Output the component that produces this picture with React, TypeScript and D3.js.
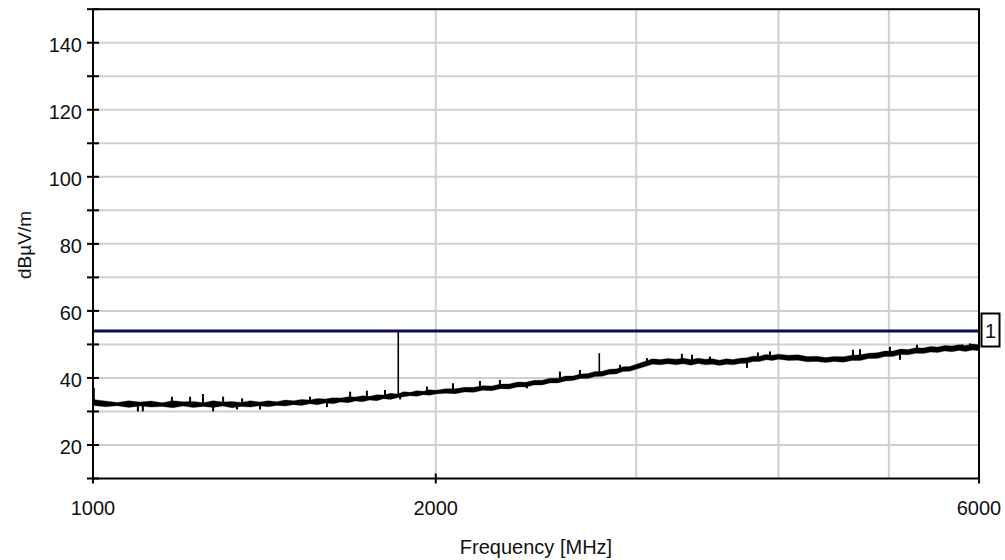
import React from "react";
import * as d3 from "d3";

// ---- data ----
const yTickValues = [10, 20, 30, 40, 50, 60, 70, 80, 90, 100, 110, 120, 130, 140, 150];
const yTickLabels = [20, 40, 60, 80, 100, 120, 140];
const xGridValues = [2000, 3000, 4000, 5000];
const xTickValues = [1000, 2000, 6000];
const xTickLabels = ["1000", "2000", "6000"];

const limitValue = 54;
const limitLabel = "1";

const traceFreq = [
  1000, 1025, 1050, 1075, 1100, 1125, 1150, 1175, 1200, 1225, 1250, 1275, 1300, 1325, 1350, 1375,
  1400, 1425, 1450, 1475, 1500, 1525, 1550, 1575, 1600, 1625, 1650, 1675, 1700, 1725, 1750, 1775,
  1800, 1825, 1850, 1875, 1900, 1925, 1950, 1975, 2000,
  2040, 2080, 2120, 2160, 2200, 2240, 2280, 2320, 2360, 2400, 2440, 2480, 2520, 2560, 2600, 2640,
  2680, 2720, 2760, 2800, 2840, 2880, 2920, 2960, 3000,
  3050, 3100, 3150, 3200, 3250, 3300, 3350, 3400, 3450, 3500, 3550, 3600, 3650, 3700, 3750, 3800,
  3850, 3900, 3950, 4000,
  4080, 4160, 4240, 4320, 4400, 4480, 4560, 4640, 4720, 4800, 4880, 4960, 5040, 5120, 5200, 5280,
  5360, 5440, 5520, 5600, 5680, 5760, 5840, 5920, 6000,
];
const traceLow = [
  31.8, 31.4, 31.7, 31.2, 31.6, 31.3, 31.5, 31.1, 31.6, 31.2, 31.5, 31.2, 31.6, 31.1, 31.5, 31.3,
  31.7, 31.4, 31.8, 31.6, 32.0, 31.8, 32.3, 32.0, 32.5, 32.3, 32.8, 32.6, 33.1, 32.9, 33.4, 33.2,
  33.8, 33.6, 34.1, 34.4, 34.7, 34.5, 35.0, 34.8, 35.2,
  35.4, 35.3, 35.8, 35.7, 36.3, 36.2, 36.8, 36.7, 37.3, 37.3, 37.9, 37.9, 38.5, 38.5, 39.1, 39.2,
  39.8, 39.8, 40.4, 40.5, 41.1, 41.2, 41.9, 42.0, 42.6,
  43.3, 44.1, 43.9, 44.2, 43.9, 44.2, 43.8, 44.3, 43.9, 44.1, 43.7, 44.1, 43.9, 44.3, 44.4, 44.9,
  44.9, 45.4, 45.2, 45.6,
  45.2, 45.3, 44.8, 44.9, 44.6, 44.9, 44.7, 45.2, 45.2, 45.8, 45.8, 46.4, 46.4, 47.0, 46.9, 47.4,
  47.3, 47.7, 47.6, 48.0, 47.8, 48.2, 47.9, 48.3, 48.1,
];
const traceHigh = [
  33.6, 33.1, 32.7, 33.2, 32.8, 33.1, 32.6, 33.2, 32.9, 33.0, 32.6, 33.2, 32.8, 33.0, 32.7, 33.2,
  32.8, 33.2, 32.9, 33.4, 33.2, 33.6, 33.4, 33.9, 33.7, 34.1, 34.0, 34.4, 34.3, 34.7, 34.5, 35.0,
  34.9, 35.4, 35.2, 35.9, 35.7, 36.2, 36.0, 36.5, 36.3,
  36.8, 36.8, 37.2, 37.2, 37.7, 37.6, 38.2, 38.2, 38.8, 38.7, 39.3, 39.3, 39.9, 39.9, 40.6, 40.6,
  41.2, 41.3, 41.9, 42.0, 42.6, 42.7, 43.3, 43.4, 44.1,
  44.9, 45.7, 45.5, 45.8, 45.6, 45.9, 45.5, 45.9, 45.6, 45.7, 45.3, 45.7, 45.5, 45.9, 46.0, 46.5,
  46.5, 47.0, 46.8, 47.1,
  46.8, 46.9, 46.4, 46.5, 46.1, 46.4, 46.3, 46.8, 46.9, 47.4, 47.5, 48.0, 48.0, 48.6, 48.5, 49.0,
  48.9, 49.4, 49.2, 49.7, 49.5, 49.9, 49.7, 50.1, 49.9,
];

// small noise excursions off the trace (frequency, level reached)
const noiseFreq = [
  1095, 1106, 1173, 1217, 1249, 1275, 1301, 1338, 1352, 1402, 1551, 1605, 1682, 1740, 1805,
  1861, 1965, 2071, 2187, 2277, 2405, 2571, 2677, 2903, 3066, 3290, 3358, 3482, 3753, 3837,
  3932, 4650, 4717, 5011, 5114, 5293, 5798, 5892,
];
const noiseLevel = [
  30.0, 30.0, 34.4, 34.4, 35.2, 30.0, 34.4, 30.6, 33.9, 30.6, 34.4, 31.3, 35.9, 36.2, 36.4,
  33.6, 37.4, 38.4, 39.1, 39.4, 36.9, 41.9, 42.4, 43.9, 45.9, 47.2, 46.9, 46.4, 43.0, 47.6,
  47.9, 48.4, 48.6, 49.3, 45.4, 49.9, 50.0, 50.3,
];

// tall single-frequency spikes
const spikeFreq = [1000, 1854, 2784];
const spikeTop = [37.0, 54.0, 47.4];

export default function App() {
  const W = 1005;
  const H = 560;
  const left = 93;
  const right = 979;
  const top = 9.2;
  const bottom = 478.5;

  const x = d3.scaleLog().domain([1000, 6000]).range([left, right]);
  const y = d3.scaleLinear().domain([10, 150]).range([bottom, top]);

  const band = traceFreq.map((f, i) => ({ f, lo: traceLow[i], hi: traceHigh[i] }));
  const area = d3
    .area<{ f: number; lo: number; hi: number }>()
    .x((d) => x(d.f))
    .y0((d) => y(d.lo))
    .y1((d) => y(d.hi));

  const loS = d3.scaleLog().domain(traceFreq).range(traceLow);
  const hiS = d3.scaleLog().domain(traceFreq).range(traceHigh);
  const midAt = (f: number) => (loS(f) + hiS(f)) / 2;

  const font = "'Liberation Sans', Arial, sans-serif";
  const grid = "#cfcfcf";

  return (
    <svg
      width={W}
      height={H}
      style={{ position: "absolute", left: 0, top: 0, display: "block", background: "#fff" }}
    >
      <rect x={0} y={0} width={W} height={H} fill="#fff" />
      {/* horizontal grid */}
      {yTickValues
        .filter((v) => v > 10 && v < 150)
        .map((v) => (
          <line key={"hg" + v} x1={left} x2={right} y1={y(v)} y2={y(v)} stroke={grid} strokeWidth={2} />
        ))}
      {/* vertical grid */}
      {xGridValues.map((v) => (
        <line key={"vg" + v} x1={x(v)} x2={x(v)} y1={top} y2={bottom} stroke={grid} strokeWidth={2} />
      ))}

      {/* limit line */}
      <line x1={left} x2={right} y1={y(limitValue)} y2={y(limitValue)} stroke="#0a0a5a" strokeWidth={3} />

      {/* trace */}
      <path d={area(band) || ""} fill="#000" stroke="#000" strokeWidth={0.3} />
      {noiseFreq.map((f, i) => (
        <line
          key={"n" + i}
          x1={x(f)}
          x2={x(f)}
          y1={y(midAt(f))}
          y2={y(noiseLevel[i])}
          stroke="#000"
          strokeWidth={2}
        />
      ))}
      {spikeFreq.map((f, i) => (
        <line
          key={"s" + i}
          x1={x(f) + (i === 0 ? 1 : 0)}
          x2={x(f) + (i === 0 ? 1 : 0)}
          y1={y(midAt(f))}
          y2={y(spikeTop[i])}
          stroke="#000"
          strokeWidth={1.6}
        />
      ))}

      {/* frame */}
      <rect x={left} y={top} width={right - left} height={bottom - top} fill="none" stroke="#000" strokeWidth={2} />

      {/* y ticks */}
      {yTickValues.map((v) => (
        <line key={"yt" + v} x1={left - 6} x2={left + 6} y1={y(v)} y2={y(v)} stroke="#000" strokeWidth={2} />
      ))}
      {yTickLabels.map((v) => (
        <text key={"yl" + v} x={82} y={y(v) + 9.5} textAnchor="end" fontFamily={font} fontSize={20} fill="#111">
          {v}
        </text>
      ))}

      {/* x ticks */}
      {xTickValues.map((v) => (
        <line key={"xt" + v} x1={x(v)} x2={x(v)} y1={bottom - 5} y2={bottom + 5} stroke="#000" strokeWidth={2} />
      ))}
      {xTickValues.map((v, i) => (
        <text key={"xl" + v} x={x(v)} y={515} textAnchor="middle" fontFamily={font} fontSize={20} fill="#111">
          {xTickLabels[i]}
        </text>
      ))}

      {/* axis titles */}
      <text x={536} y={554} textAnchor="middle" fontFamily={font} fontSize={20} fill="#111">
        Frequency [MHz]
      </text>
      <text
        transform={`translate(31,245) rotate(-90)`}
        textAnchor="middle"
        fontFamily={font}
        fontSize={19}
        fill="#111"
      >
        dBµV/m
      </text>

      {/* limit label */}
      <rect x={981.5} y={313.5} width={18} height={33} fill="#fff" stroke="#000" strokeWidth={2} />
      <text x={990.5} y={337.5} textAnchor="middle" fontFamily={font} fontSize={20} fill="#111">
        {limitLabel}
      </text>
    </svg>
  );
}
